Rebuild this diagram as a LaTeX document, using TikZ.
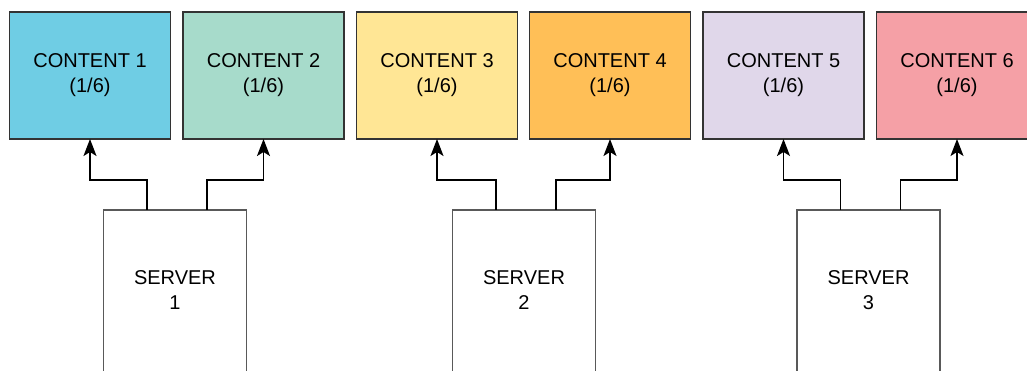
\documentclass[tikz,border=0pt]{standalone}
\usepackage{fontspec}
\setmainfont{Liberation Sans}
\usepackage{tikz}
\usetikzlibrary{arrows.meta}

\definecolor{contentA}{HTML}{6FCDE4}
\definecolor{contentB}{HTML}{A7DBCB}
\definecolor{contentC}{HTML}{FFE695}
\definecolor{contentD}{HTML}{FFBF57}
\definecolor{contentE}{HTML}{E0D7EA}
\definecolor{contentF}{HTML}{F5A0A6}

\begin{document}
\begin{tikzpicture}[x=1pt, y=-1pt]
    \tikzstyle{content} = [rectangle, draw=black!80, line width=1.2pt, inner sep=0pt, outer sep=0pt,
        minimum width=161pt, minimum height=127pt, align=center, font=\fontsize{20}{25}\selectfont]
    \tikzstyle{server} = [rectangle, draw=black!65, line width=1.2pt, fill=white, inner sep=0pt, outer sep=0pt,
        minimum width=143pt, minimum height=166pt, text depth=6pt, align=center, font=\fontsize{20}{25}\selectfont]
    \tikzstyle{link} = [line width=1.6pt, -{Stealth[length=17pt, width=13pt, inset=4pt]}]

    \useasboundingbox (0,0) rectangle (1027,371);

    % Content blocks
    \node[content, fill=contentA] (c1) at (90,75.5) {CONTENT 1\\(1/6)};
    \node[content, fill=contentB] (c2) at (263.5,75.5) {CONTENT 2\\(1/6)};
    \node[content, fill=contentC] (c3) at (437,75.5) {CONTENT 3\\(1/6)};
    \node[content, fill=contentD] (c4) at (610,75.5) {CONTENT 4\\(1/6)};
    \node[content, fill=contentE] (c5) at (783.5,75.5) {CONTENT 5\\(1/6)};
    \node[content, fill=contentF] (c6) at (957,75.5) {CONTENT 6\\(1/6)};

    % Servers
    \node[server] (s1) at (175,293) {SERVER\\1};
    \node[server] (s2) at (524,293) {SERVER\\2};
    \node[server] (s3) at (868.5,293) {SERVER\\3};

    % Links
    \foreach \s/\a/\b in {s1/c1/c2, s2/c3/c4, s3/c5/c6} {
        \draw[link] ([xshift=-28pt]\s.north) -- ++(0,-30) -| (\a.south);
        \draw[link] ([xshift=32pt]\s.north) -- ++(0,-30) -| (\b.south);
    }

\end{tikzpicture}
\end{document}
